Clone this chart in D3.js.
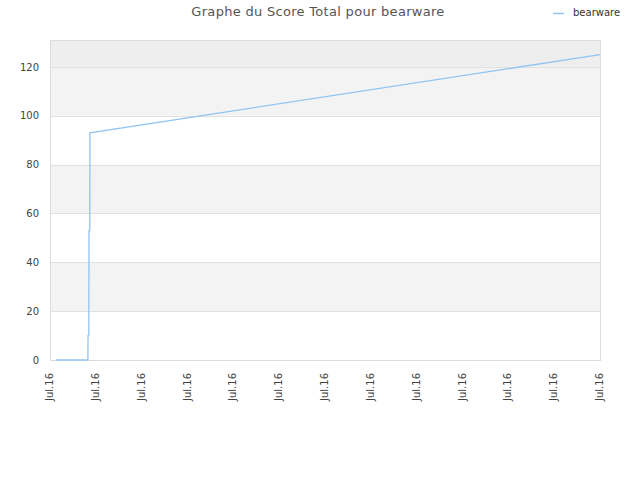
<!DOCTYPE html>
<html>
<head>
<meta charset="utf-8">
<script src="https://cdn.jsdelivr.net/npm/d3@7"></script>
<style>
  body { margin: 0; background: #fff; }
  svg { font-family: "DejaVu Sans", sans-serif; }
</style>
</head>
<body>
<div id="chart"></div>
<script>
var title = "Graphe du Score Total pour bearware";
var seriesName = "bearware";
var dates = ["2016-07-01T03:00", "2016-07-01T19:50", "2016-07-01T19:55", "2016-07-01T20:20",
             "2016-07-01T20:25", "2016-07-01T20:50", "2016-07-01T20:55", "2016-07-13T00:00"];
var scores = [0, 0, 10, 10, 53, 53, 93, 125];
var yTicks = [0, 20, 40, 60, 80, 100, 120];
var xStart = "2016-07-01T00:00", xEnd = "2016-07-13T00:00";

var parse = d3.timeParse("%Y-%m-%dT%H:%M");
var data = dates.map(function(d, i) { return { date: parse(d), score: scores[i] } });

var svg = d3.select('#chart').append('svg').attr('width', 640).attr('height', 480);
var mLeft = 50, mRight = 600, mTop = 40, mBottom = 360;

var xScale = d3.scaleTime().domain([parse(xStart), parse(xEnd)]).range([mLeft, mRight]);
var yScale = d3.scaleLinear().domain([0, 131]).range([mBottom, mTop]);

// alternating bands
var bands = [[0,20,'#fff'],[20,40,'#f3f3f3'],[40,60,'#fff'],[60,80,'#f3f3f3'],[80,100,'#fff'],[100,120,'#f3f3f3'],[120,131,'#eeeeee']];
svg.selectAll('rect.band').data(bands).enter().append('rect')
  .attr('x', mLeft).attr('width', mRight - mLeft)
  .attr('y', d => yScale(d[1])).attr('height', d => yScale(d[0]) - yScale(d[1]))
  .style('fill', d => d[2]);

svg.selectAll('line.grid').data(yTicks.slice(1)).enter().append('line')
  .attr('x1', mLeft).attr('x2', mRight)
  .attr('y1', d => Math.round(yScale(d)) + 0.5).attr('y2', d => Math.round(yScale(d)) + 0.5)
  .style('stroke', '#e0e0e0');

svg.append('rect').attr('x', mLeft + 0.5).attr('y', mTop + 0.5)
  .attr('width', mRight - mLeft).attr('height', mBottom - mTop)
  .style('fill', 'none').style('stroke', '#dcdcdc');

var yAxis = d3.axisLeft(yScale).tickValues(yTicks).tickSize(0).tickPadding(11);
var gy = svg.append('g').attr('transform', 'translate(' + mLeft + ',0)').call(yAxis);
gy.select('.domain').remove();
gy.selectAll('text').style('font-size', '10px').style('fill', '#444').style('font-family', '"DejaVu Sans", sans-serif');

var xAxis = d3.axisBottom(xScale).ticks(d3.timeDay.every(1)).tickFormat(d3.timeFormat('%b.%y')).tickSize(0);
var gx = svg.append('g').attr('transform', 'translate(0,' + mBottom + ')').call(xAxis);
gx.select('.domain').remove();
gx.selectAll('text').style('font-size', '10px').style('fill', '#444').style('font-family', '"DejaVu Sans", sans-serif')
  .attr('text-anchor', 'end').attr('transform', 'rotate(-90)')
  .attr('x', -13).attr('y', -1).attr('dy', '0.35em');

svg.append('path').datum(data)
  .attr('fill', 'none').attr('stroke', '#92c4f2').attr('stroke-width', 1.3)
  .attr('d', d3.line().x(d => xScale(d.date)).y(d => yScale(d.score)));

svg.append('text').text(title).attr('x', 318).attr('y', 16)
  .attr('text-anchor', 'middle').style('font-size', '13px').style('letter-spacing', '0.3px').style('fill', '#555');

svg.append('line').attr('x1', 553).attr('x2', 564).attr('y1', 13.5).attr('y2', 13.5)
  .style('stroke', '#92c4f2').style('stroke-width', 1.5);
svg.append('text').text(seriesName).attr('x', 573).attr('y', 16)
  .style('font-size', '10px').style('fill', '#333');
</script>
</body>
</html>
